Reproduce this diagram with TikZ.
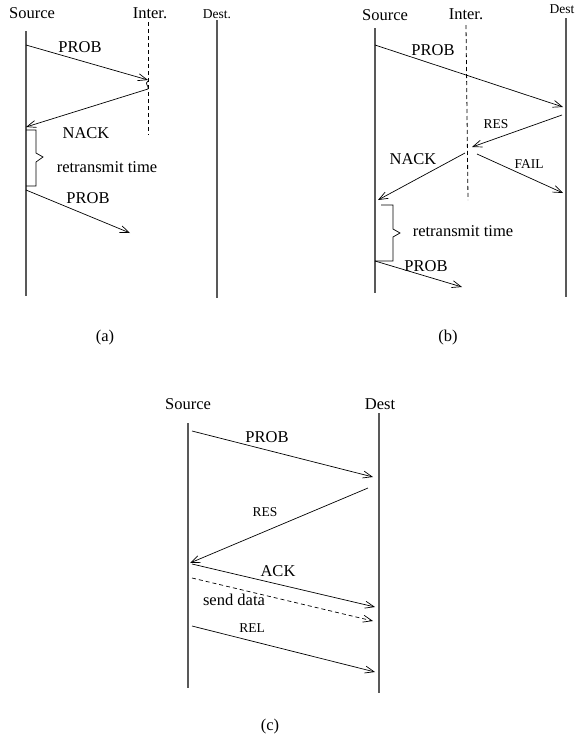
\documentclass[tikz,border=0pt]{standalone}
\usepackage{fontspec}
\setmainfont{Liberation Serif}
\usetikzlibrary{arrows.meta}
\begin{document}
\begin{tikzpicture}[x=1pt,y=-1pt,
  life/.style={draw=black!65,line width=1.2pt},
  inter/.style={draw=black,dashed,line width=0.8pt,dash pattern=on 4pt off 3pt},
  msg/.style={draw=black,line width=0.7pt,-{Straight Barb[length=9pt,width=7pt,line width=0.7pt]}},
  brace/.style={draw=black,line width=0.7pt},
  lbl/.style={inner sep=0pt,font=\fontsize{16.5}{18}\selectfont},
  slbl/.style={inner sep=0pt,font=\fontsize{13.5}{15}\selectfont}]
\useasboundingbox (0,0) rectangle (575,740);
% ---------- (a)
\node[lbl] (aS) at (32,13) {Source};
\node[lbl] (aI) at (150,13) {Inter.};
\node[slbl] (aD) at (217,14) {Dest.};
\coordinate (aS1) at (26,31); \coordinate (aS2) at (26,296);
\coordinate (aI1) at (148,22); \coordinate (aI2) at (148,135);
\coordinate (aD1) at (217,20); \coordinate (aD2) at (217,298);
\draw[life] (aS1) -- (aS2);
\draw[inter] (aI1) -- (aI2);
\draw[life] (aD1) -- (aD2);
\coordinate (aP1s) at (26,45); \coordinate (aP1e) at (148,80);
\draw[msg] (aP1s) -- (aP1e);
\node[lbl] (aP1l) at (80,47) {PROB};
\coordinate (aWa) at (148,81); \coordinate (aWb) at (148,89);
\draw[brace] (aWa) .. controls (144,84) and (149,85) .. (aWb);
\coordinate (aNe) at (26,127);
\draw[msg] (aWb) -- (aNe);
\node[lbl] (aNl) at (86,133) {NACK};
\coordinate (aB1) at (26,130); \coordinate (aB2) at (26,186);
\draw[brace] (aB1) -- (36,130) -- (36,153) -- (43,157) -- (36,162) -- (36,186) -- (aB2);
\node[lbl] (aRl) at (107,167) {retransmit time};
\coordinate (aP2s) at (26,190); \coordinate (aP2e) at (130,233);
\draw[msg] (aP2s) -- (aP2e);
\node[lbl] (aP2l) at (88,198) {PROB};
\node[lbl] (aCap) at (105,338) {(a)};
% ---------- (b)
\node[lbl] (bS) at (385,15) {Source};
\node[lbl] (bI) at (466,14) {Inter.};
\node[slbl] (bD) at (562,9) {Dest};
\coordinate (bS1) at (375,28); \coordinate (bS2) at (375,293);
\coordinate (bI1) at (466,25); \coordinate (bI2) at (468,200);
\coordinate (bD1) at (566,18); \coordinate (bD2) at (566,297);
\draw[life] (bS1) -- (bS2);
\draw[inter] (bI1) -- (bI2);
\draw[life] (bD1) -- (bD2);
\coordinate (bPs) at (375,45); \coordinate (bPe) at (563,107);
\draw[msg] (bPs) -- (bPe);
\node[lbl] (bPl) at (433,50) {PROB};
\coordinate (bRs) at (562,115); \coordinate (bRe) at (472,147);
\draw[msg] (bRs) -- (bRe);
\node[slbl] (bRl) at (496,124) {RES};
\coordinate (bNs) at (465,153); \coordinate (bNe) at (378,200);
\draw[msg] (bNs) -- (bNe);
\node[lbl] (bNl) at (413,159) {NACK};
\coordinate (bFs) at (477,154); \coordinate (bFe) at (563,193);
\draw[msg] (bFs) -- (bFe);
\node[slbl] (bFl) at (529,164) {FAIL};
\coordinate (bB1) at (381,205); \coordinate (bB2) at (375,261);
\draw[brace] (bB1) -- (393,205) -- (393,229) -- (400,233) -- (393,237) -- (393,261) -- (bB2);
\node[lbl] (bRt) at (463,231) {retransmit time};
\coordinate (bP2s) at (375,261); \coordinate (bP2e) at (462,287);
\draw[msg] (bP2s) -- (bP2e);
\node[lbl] (bP2l) at (426,266) {PROB};
\node[lbl] (bCap) at (448,338) {(b)};
% ---------- (c)
\node[lbl] (cS) at (188,404) {Source};
\node[lbl] (cD) at (380,404) {Dest};
\coordinate (cS1) at (188,423); \coordinate (cS2) at (188,688);
\coordinate (cD1) at (379,413); \coordinate (cD2) at (379,693);
\draw[life] (cS1) -- (cS2);
\draw[life] (cD1) -- (cD2);
\coordinate (cPs) at (192,431); \coordinate (cPe) at (373,477);
\draw[msg] (cPs) -- (cPe);
\node[lbl] (cPl) at (267,437) {PROB};
\coordinate (cRs) at (368,488); \coordinate (cRe) at (190,563);
\draw[msg] (cRs) -- (cRe);
\node[slbl] (cRl) at (265,512) {RES};
\coordinate (cAs) at (192,564); \coordinate (cAe) at (375,607);
\draw[msg] (cAs) -- (cAe);
\node[lbl] (cAl) at (278,571) {ACK};
\coordinate (cDs) at (192,578); \coordinate (cDe) at (373,621);
\draw[msg,dashed,dash pattern=on 4pt off 3pt] (cDs) -- (cDe);
\node[lbl] (cDl) at (234,600) {send data};
\coordinate (cLs) at (192,626); \coordinate (cLe) at (375,672);
\draw[msg] (cLs) -- (cLe);
\node[slbl] (cLl) at (252,628) {REL};
\node[lbl] (cCap) at (270,727) {(c)};
\end{tikzpicture}
\end{document}
